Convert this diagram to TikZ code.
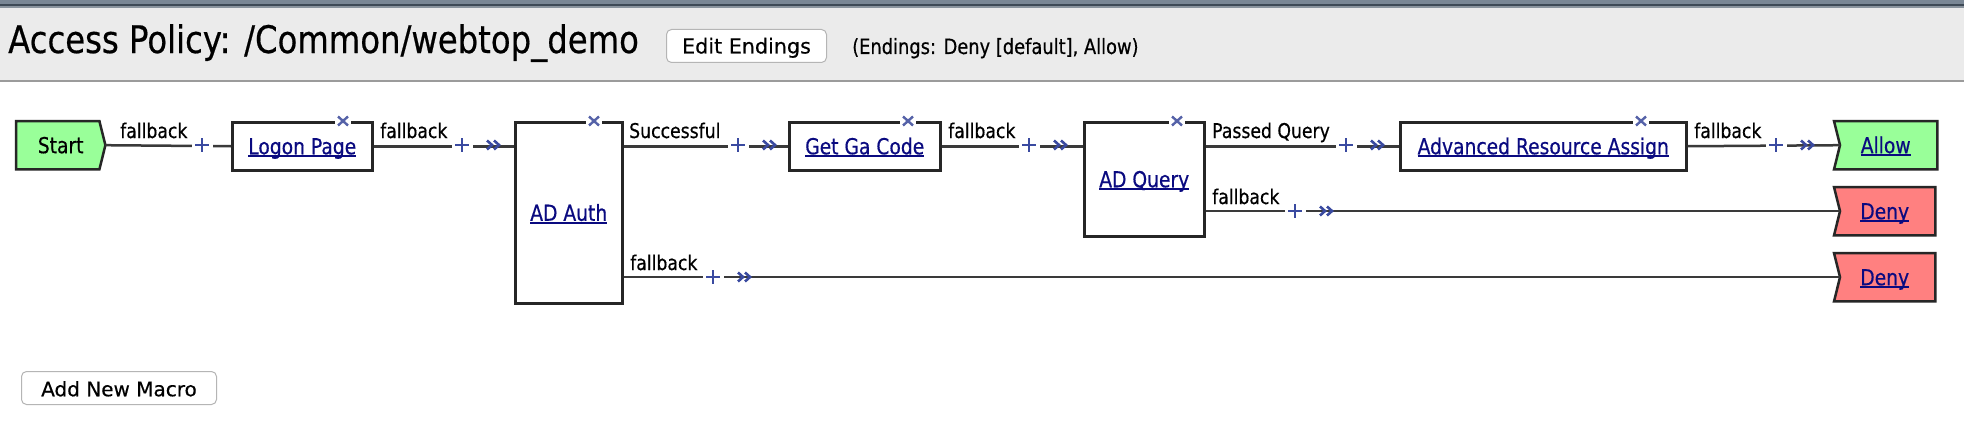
\documentclass[tikz,border=0pt]{standalone}
\usepackage{fontspec}
\setmainfont{DejaVu Sans}[FakeBold=0.4]
\newfontfamily\uif{DejaVu Sans}[FakeStretch=0.85,FakeBold=0.5]
\usetikzlibrary{backgrounds}
\definecolor{topca}{HTML}{7A8795}
\definecolor{topcb}{HTML}{3E4A56}
\definecolor{topcc}{HTML}{8A949E}
\definecolor{hdrbg}{HTML}{EBEBEB}
\definecolor{hdrline}{HTML}{9B9B9B}
\definecolor{boxc}{HTML}{262626}
\definecolor{linec}{HTML}{3A3A3A}
\definecolor{linkc}{HTML}{0A0A80}
\definecolor{markc}{HTML}{3A4AA0}
\definecolor{xmarkc}{HTML}{5562A8}
\definecolor{startg}{HTML}{99FF99}
\definecolor{denyr}{HTML}{FF8080}
\definecolor{btnc}{HTML}{B5B5B5}
\newcommand\ulnk[1]{\setbox0\hbox{#1}\rlap{\vrule height -1pt depth 3pt width \wd0}\box0}
\begin{document}
\begin{tikzpicture}[x=1pt,y=-1pt,
  box/.style={draw=boxc, line width=2.5pt, fill=white, anchor=north west, inner sep=0pt,
    text height=16pt, text depth=0pt, text=linkc, font=\uif\fontsize{22}{24}\selectfont},
  endn/.style={anchor=north west, inner sep=0pt, text height=16pt, text depth=0pt,
    text=linkc, font=\uif\fontsize{22}{24}\selectfont},
  endshape/.style={draw=boxc, line width=2.5pt},
  conn/.style={draw=linec, line width=2.5pt},
  elabel/.style={anchor=base west, inner sep=0pt, font=\uif\fontsize{20.3}{22}\selectfont},
  btn/.style={draw=btnc, fill=white, rounded corners=5pt, line width=1pt, anchor=north west,
    inner sep=0pt, text depth=0pt},
  pics/plusmark/.style={code={
    \fill[white] (-10,-3.5) rectangle (11,3.5);
    \draw[markc, line width=2.6pt] (-7,0) -- (7,0) (0,-7) -- (0,7);}},
  pics/chevmark/.style={code={
    \draw[markc, line width=2.6pt, line join=miter] (-7,-4.5) -- (-2,0) -- (-7,4.5) (0,-4.5) -- (5,0) -- (0,4.5);}},
  pics/closemark/.style={code={
    \fill[white] (-8,-3) rectangle (8,3);
    \draw[xmarkc, line width=2.4pt] (-5,-4.5) -- (5,4.5) (-5,4.5) -- (5,-4.5);}}
]
\useasboundingbox (0,0) rectangle (1964,436);
\begin{scope}[on background layer]
  \fill[white] (0,0) rectangle (1964,436);
\end{scope}
% header
\fill[topca] (0,0) rectangle (1964,4);
\fill[topcb] (0,4) rectangle (1964,6.5);
\fill[topcc] (0,6.5) rectangle (1964,8);
\fill[hdrbg] (0,8) rectangle (1964,80);
\fill[hdrline] (0,80) rectangle (1964,82);
\node[anchor=base west, inner sep=0pt, font=\uif\fontsize{38}{40}\selectfont] (title) at (8,53) {Access Policy: /Common/webtop\_demo};
\node[btn, minimum width=160pt, minimum height=33pt, text height=15pt, font=\fontsize{20.7}{22}\selectfont] (editbtn) at (666,29) {Edit Endings};
\node[anchor=base west, inner sep=0pt, font=\uif\fontsize{21}{23}\selectfont] (endings) at (852,54) {(Endings: Deny [default], Allow)};

% boxes
\node[box, minimum width=140pt, minimum height=48pt] (logon) at (231,121) {\ulnk{Logon Page}};
\node[box, minimum width=107pt, minimum height=181pt] (adauth) at (514,121) {\ulnk{AD Auth}};
\node[box, minimum width=151pt, minimum height=48pt] (getga) at (788,121) {\ulnk{Get Ga Code}};
\node[box, minimum width=120pt, minimum height=114pt] (adquery) at (1083,121) {\ulnk{AD Query}};
\node[box, minimum width=286pt, minimum height=48pt] (ara) at (1399,121) {\ulnk{Advanced Resource Assign}};

% terminals
\node[endn, minimum width=89pt, minimum height=48pt, text=black] (start) at (16,121) {Start};
\node[endn, minimum width=103pt, minimum height=48pt] (allow) at (1834,121) {\ulnk{Allow}};
\node[endn, minimum width=101pt, minimum height=48pt] (deny1) at (1834,187) {\ulnk{Deny}};
\node[endn, minimum width=101pt, minimum height=48pt] (deny2) at (1834,253) {\ulnk{Deny}};
\begin{scope}[on background layer]
  \filldraw[endshape, fill=startg] (start.north west) -- ([xshift=-6pt]start.north east) -- (start.east)
    -- ([xshift=-6pt]start.south east) -- (start.south west) -- cycle;
  \filldraw[endshape, fill=startg] (allow.north west) -- (allow.north east) -- (allow.south east)
    -- (allow.south west) -- ([xshift=6pt]allow.west) -- cycle;
  \filldraw[endshape, fill=denyr] (deny1.north west) -- (deny1.north east) -- (deny1.south east)
    -- (deny1.south west) -- ([xshift=6pt]deny1.west) -- cycle;
  \filldraw[endshape, fill=denyr] (deny2.north west) -- (deny2.north east) -- (deny2.south east)
    -- (deny2.south west) -- ([xshift=6pt]deny2.west) -- cycle;
\end{scope}

% close marks
\pic at (343,121) {closemark};
\pic at (594,121) {closemark};
\pic at (908,121) {closemark};
\pic at (1177,121) {closemark};
\pic at (1641,121) {closemark};

% connectors
\draw[conn] (start.east) -- (logon.west);
\draw[conn] (logon.east) -- (adauth.west |- logon.east);
\draw[conn] (adauth.east |- getga.west) -- (getga.west);
\draw[conn] (getga.east) -- (adquery.west |- getga.east);
\draw[conn] (adquery.east |- ara.west) -- (ara.west);
\draw[conn] (ara.east) -- ([xshift=6pt]allow.west);
\draw[conn] (adquery.east |- deny1.west) -- ([xshift=6pt]deny1.west);
\draw[conn] (adauth.east |- deny2.west) -- ([xshift=6pt]deny2.west);

% connector labels
\node[elabel] (lab1) at (120,138) {fallback};
\node[elabel] (lab2) at (380,138) {fallback};
\node[elabel] (lab3) at (629,138) {Successful};
\node[elabel] (lab4) at (948,138) {fallback};
\node[elabel] (lab5) at (1212,138) {Passed Query};
\node[elabel] (lab6) at (1694,138) {fallback};
\node[elabel] (lab7) at (1212,204) {fallback};
\node[elabel] (lab8) at (630,270) {fallback};

% plus and chevron marks
\pic at (202,145) {plusmark};
\pic at (462,145) {plusmark}; \pic at (494,145) {chevmark};
\pic at (738,145) {plusmark}; \pic at (770,145) {chevmark};
\pic at (1029,145) {plusmark}; \pic at (1061,145) {chevmark};
\pic at (1346,145) {plusmark}; \pic at (1378,145) {chevmark};
\pic at (1776,145) {plusmark}; \pic at (1808,145) {chevmark};
\pic at (1295,211) {plusmark}; \pic at (1327,211) {chevmark};
\pic at (713,277) {plusmark}; \pic at (745,277) {chevmark};

% bottom button
\node[btn, minimum width=195pt, minimum height=33pt, text height=16.5pt, font=\fontsize{20}{22}\selectfont] (addbtn) at (21,371) {Add New Macro};
\end{tikzpicture}
\end{document}
